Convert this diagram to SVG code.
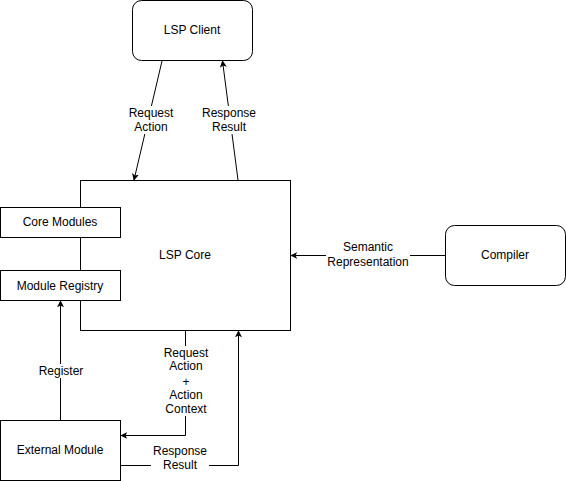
<svg xmlns="http://www.w3.org/2000/svg" width="566" height="481" viewBox="0 0 566 481">
<style>
text{font-family:"Liberation Sans",Arial,sans-serif;font-size:12px;fill:#000;text-anchor:middle}
.n{fill:#fff;stroke:#000;stroke-width:1}
.e{fill:none;stroke:#000;stroke-width:1}
.bg{fill:#fff}
</style>
<defs>
<marker id="a" viewBox="0 0 10 10" refX="9" refY="5" markerWidth="7" markerHeight="7" orient="auto" markerUnits="userSpaceOnUse">
<path d="M0,0 L10,5 L0,10 L2.5,5 z" fill="#000"/>
</marker>
</defs>
<rect width="566" height="481" fill="#fff"/>
<g id="core"><rect class="n" x="80.5" y="180.5" width="210" height="150"/><text x="185" y="259">LSP Core</text></g>
<g id="client"><rect class="n" x="132.5" y="0.5" width="120" height="60" rx="9"/><text x="192" y="34">LSP Client</text></g>
<g id="coremodules"><rect class="n" x="0.5" y="207.5" width="120" height="30"/><text x="60" y="226">Core Modules</text></g>
<g id="registry"><rect class="n" x="0.5" y="270.5" width="120" height="30"/><text x="60" y="290">Module Registry</text></g>
<g id="external"><rect class="n" x="0.5" y="420.5" width="120" height="60"/><text x="60" y="454">External Module</text></g>
<g id="compiler"><rect class="n" x="445.5" y="225.5" width="120" height="60" rx="9"/><text x="505" y="259">Compiler</text></g>
<g id="connectors">
<path class="e" d="M162,61 L134,180" marker-end="url(#a)"/>
<path class="e" d="M238,180 L222.5,61" marker-end="url(#a)"/>
<path class="e" d="M445.5,255.5 L291,255.5" marker-end="url(#a)"/>
<path class="e" d="M60.5,420 L60.5,301" marker-end="url(#a)"/>
<path class="e" d="M185.5,331 L185.5,435.5 L121,435.5" marker-end="url(#a)"/>
<path class="e" d="M121,465.5 L238.5,465.5 L238.5,331" marker-end="url(#a)"/>
<rect class="bg" x="127" y="106" width="48" height="28"/>
<rect class="bg" x="201" y="106" width="56" height="28"/>
<rect class="bg" x="326" y="240" width="84" height="29"/>
<rect class="bg" x="36" y="364" width="50" height="14"/>
<rect class="bg" x="162" y="346" width="48" height="70"/>
<rect class="bg" x="151" y="444" width="58" height="28"/>
<text x="151" y="117">Request</text><text x="151" y="131">Action</text>
<text x="229" y="117">Response</text><text x="229" y="131">Result</text>
<text x="368" y="251">Semantic</text><text x="368" y="266">Representation</text>
<text x="61" y="375">Register</text>
<text x="186" y="357">Request</text><text x="186" y="370">Action</text><text x="186" y="386">+</text><text x="186" y="399">Action</text><text x="186" y="413">Context</text>
<text x="180" y="455">Response</text><text x="180" y="469">Result</text>
</g>
</svg>
